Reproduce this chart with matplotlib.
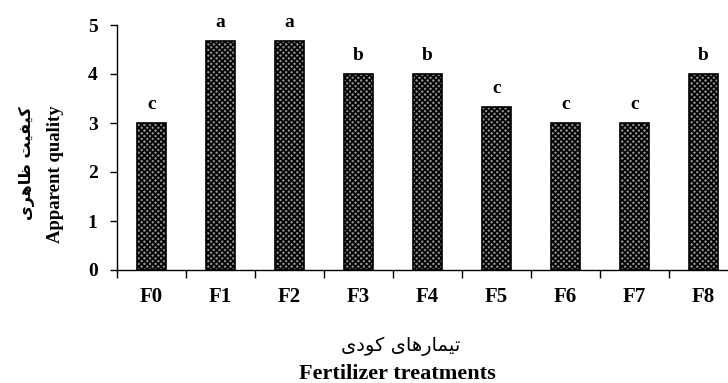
import numpy as np
import matplotlib
matplotlib.use("Agg")
import matplotlib.pyplot as plt

# Data
treatments = ["F0", "F1", "F2", "F3", "F4", "F5", "F6", "F7", "F8"]
quality = [3.0, 4.67, 4.67, 4.0, 4.0, 3.33, 3.0, 3.0, 4.0]
letters = ["c", "a", "a", "b", "b", "c", "c", "c", "b"]
y_ticks = [0, 1, 2, 3, 4, 5]

# Persian labels, pre-shaped presentation forms in visual order
fa_xlabel = "\ufbfc\ufea9\ufeee\ufb90 \ufbfc\ufe8e\ufeeb\ufead\ufe8e\ufee4\ufbff\ufe97"
fa_ylabel = "\ufbfc\ufeae\ufeeb\ufe8e\ufec7 \ufe96\ufbff\ufed4\ufbff\ufb90"

plt.rcParams["font.family"] = ["Liberation Serif", "DejaVu Sans"]
plt.rcParams["hatch.linewidth"] = 1.2

W, H = 728, 383
fig = plt.figure(figsize=(W / 100, H / 100), dpi=100)
# axes: left spine at x=117, y0 at 270, y5 at 25, category width 69 px
ax = fig.add_axes([117 / W, (H - 270) / H, (9 * 69) / W, 245 / H])

x = np.arange(len(treatments))
ax.bar(x, quality, width=0.41, color="#8c8c8c", edgecolor="black",
       hatch="xxxxxx", linewidth=1.2, zorder=2)

for xi, v, l in zip(x, quality, letters):
    ax.text(xi, v + 0.2, l, ha="center", va="bottom", fontsize=14,
            fontweight="bold")

ax.set_xlim(-0.5, 8.5)
ax.set_ylim(0, 5)
ax.set_yticks(y_ticks)
ax.set_yticklabels([str(t) for t in y_ticks], fontsize=14, fontweight="bold")
ax.set_xticks(x)
ax.set_xticklabels(treatments, fontsize=15, fontweight="bold")
ax.set_xticks(np.arange(-0.5, 8.6, 1.0), minor=True)
ax.tick_params(axis="x", which="major", length=0, pad=12)
ax.tick_params(axis="x", which="minor", length=6, width=1.0, direction="out")
ax.tick_params(axis="y", length=5, width=1.0, direction="out", pad=9)

for s in ["top", "right"]:
    ax.spines[s].set_visible(False)
for s in ["left", "bottom"]:
    ax.spines[s].set_linewidth(1.0)

# axis titles
fig.text(401 / W, 1 - 346 / H, fa_xlabel, ha="center", va="center",
         fontsize=14, family=["DejaVu Sans"])
fig.text(397 / W, 1 - 374 / H, "Fertilizer treatments", ha="center",
         va="center", fontsize=16, fontweight="bold")
fig.text(55 / W, 1 - 174 / H, "Apparent quality", ha="center", va="center",
         rotation=90, fontsize=13.5, fontweight="bold")
fig.text(27 / W, 1 - 163 / H, fa_ylabel, ha="center", va="center",
         rotation=90, fontsize=11.5, fontweight="bold", family=["DejaVu Sans"])

fig.savefig("out.png", dpi=100)
